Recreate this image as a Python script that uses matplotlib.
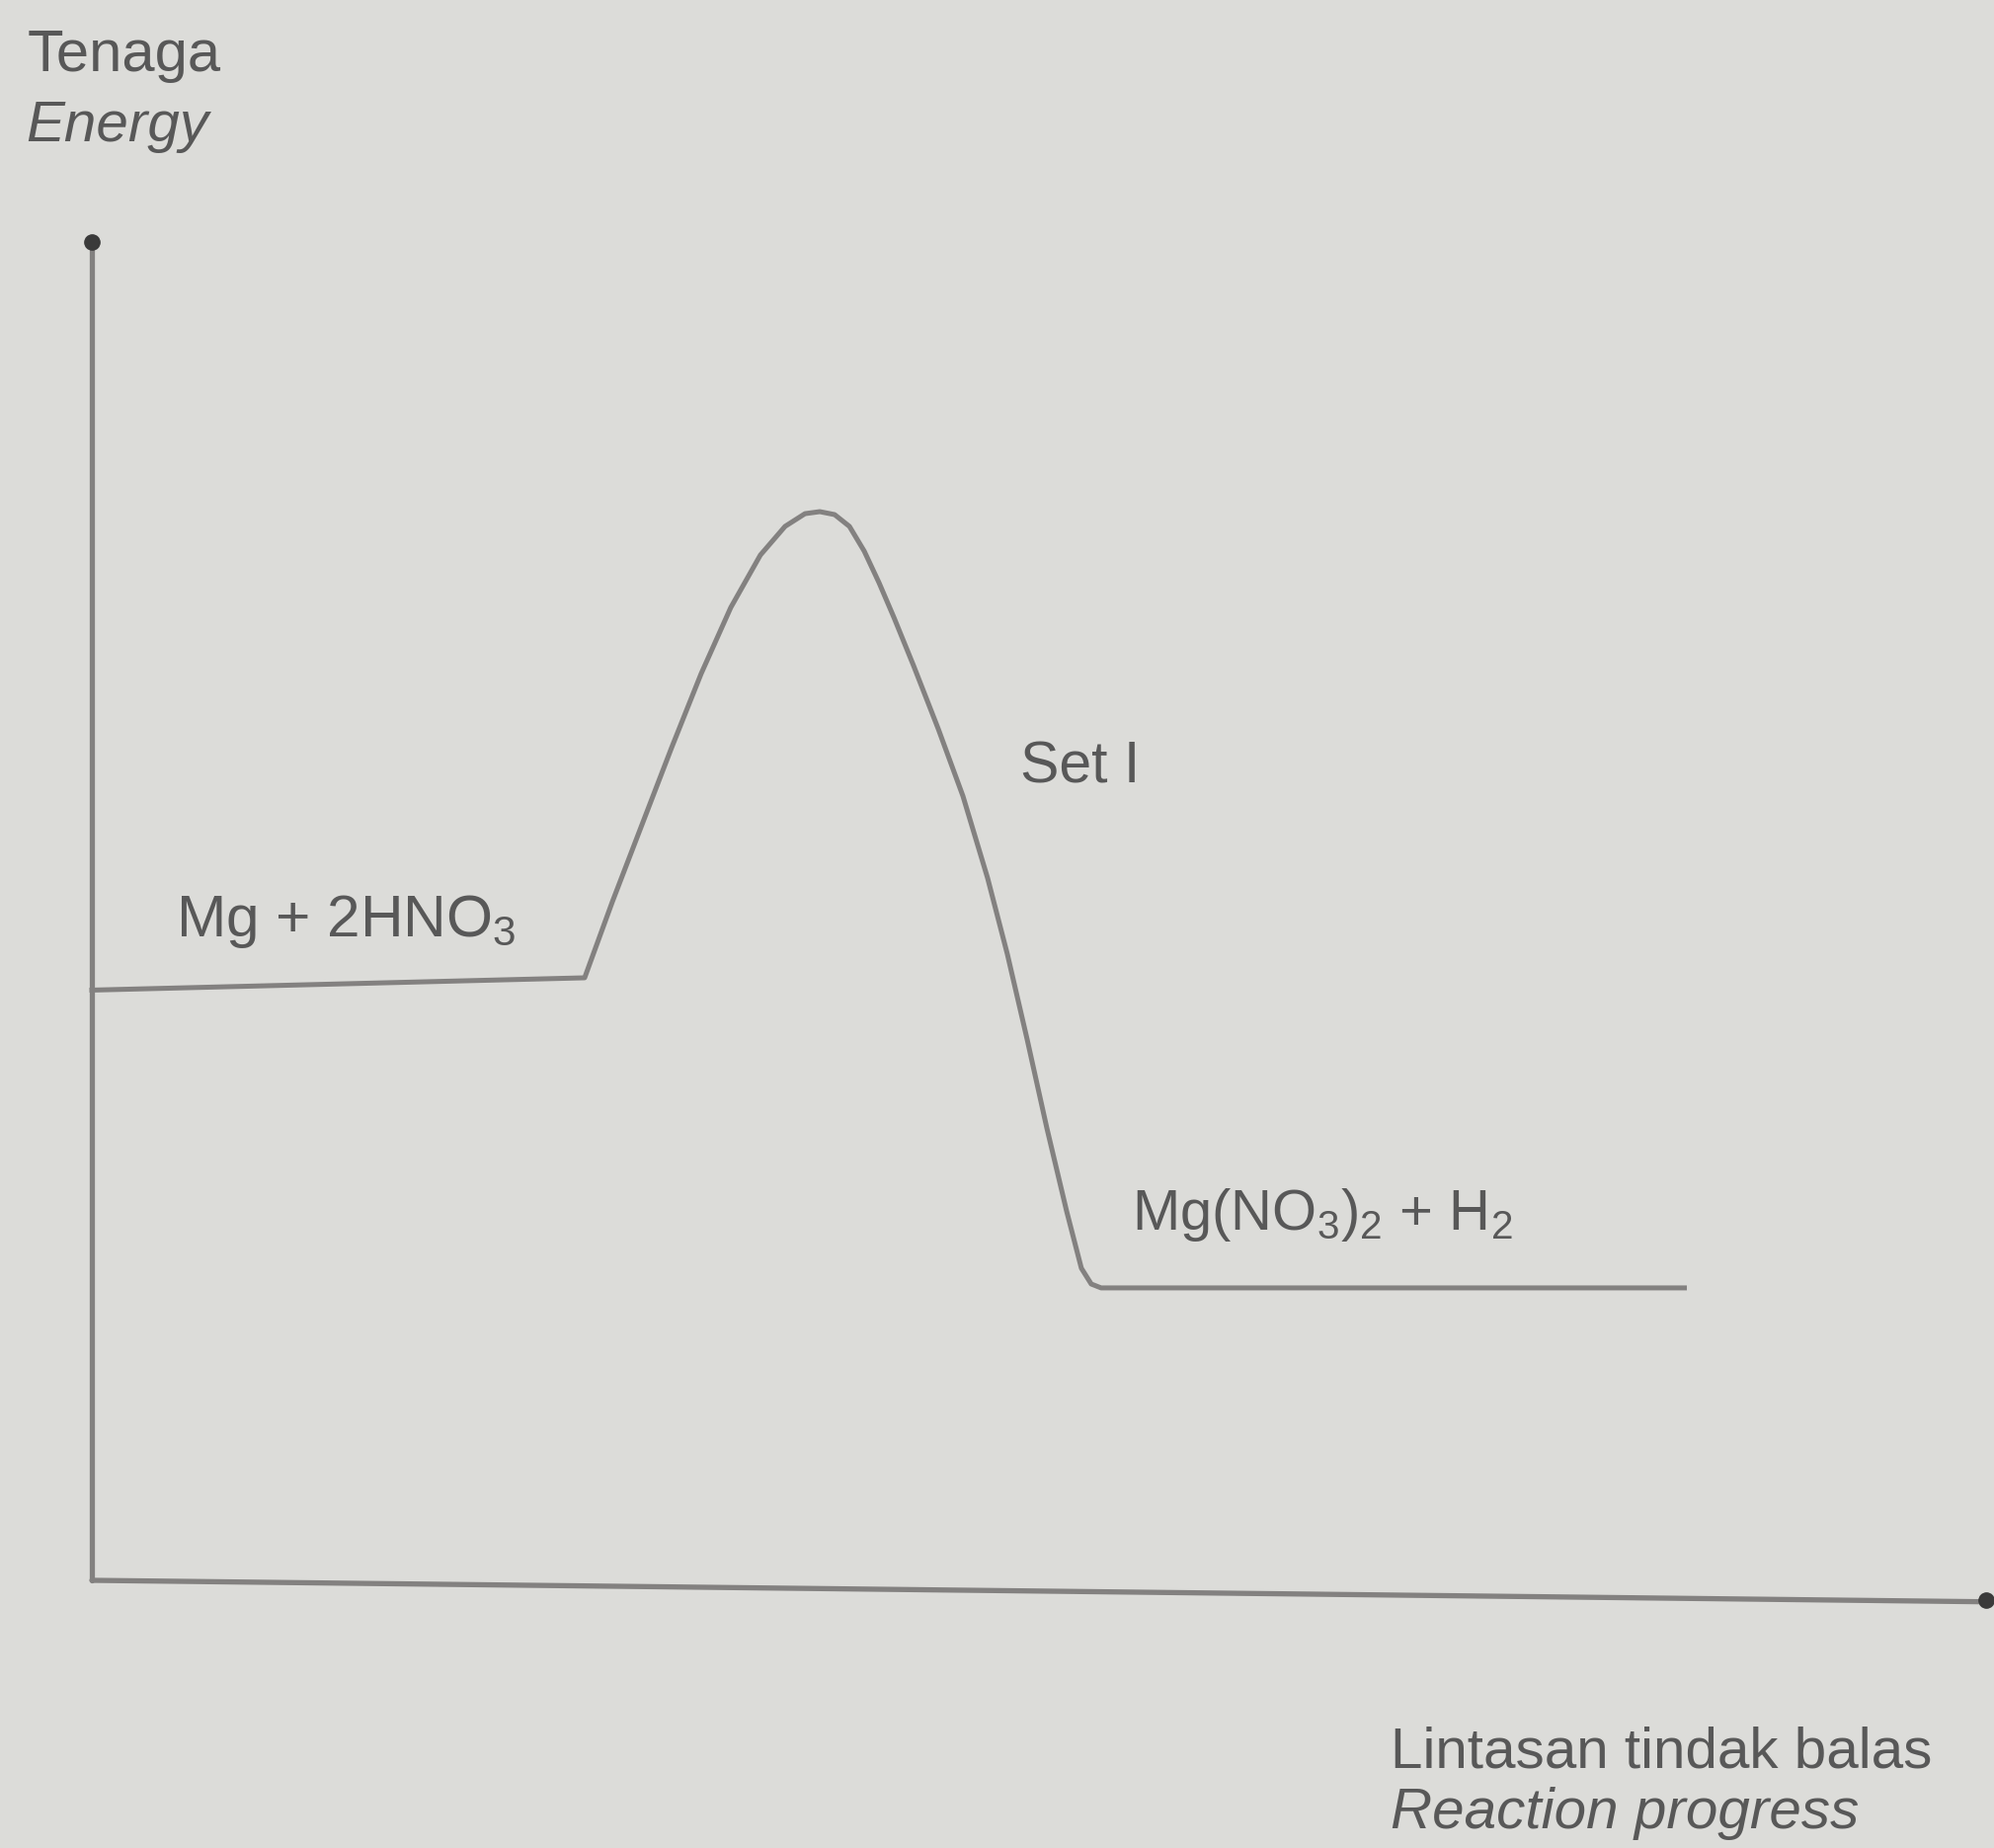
import numpy as np
import matplotlib.pyplot as plt

plt.rcParams['font.family'] = ['Liberation Sans', 'DejaVu Sans']
plt.rcParams['mathtext.fontset'] = 'custom'
plt.rcParams['mathtext.rm'] = 'Liberation Sans'
plt.rcParams['mathtext.it'] = 'Liberation Sans:italic'

# energy profile (reaction progress 0-100, energy in arbitrary units)
reactant_x = [0.0, 25.96]
reactant_e = [44.1, 45.02]

hump_x = [25.96, 27.42, 28.98, 30.54, 32.10, 33.66, 35.22, 36.52, 37.57, 38.35,
          39.13, 39.91, 40.69, 41.47, 42.25, 43.29, 44.59, 45.89, 47.19, 48.23,
          49.27, 50.31, 51.35, 52.13, 52.65, 53.17]
hump_e = [45.02, 50.70, 56.46, 62.21, 67.75, 72.69, 76.61, 78.75, 79.70, 79.85,
          79.63, 78.75, 76.90, 74.54, 71.96, 68.34, 63.62, 58.60, 52.47, 46.79,
          40.44, 33.80, 27.60, 23.32, 22.14, 21.85]

product_x = [53.17, 83.9]
product_e = [21.85, 21.85]

y_label = ["Tenaga", "Energy"]
x_label = ["Lintasan tindak balas", "Reaction progress"]
reactant_label = r"Mg + 2HNO$_\mathregular{3}$"
product_label = r"Mg(NO$_\mathregular{3}$)$_\mathregular{2}$ + H$_\mathregular{2}$"
set_label = "Set I"

bg = '#dcdcd9'
line_c = '#838180'
text_c = '#585858'

fig = plt.figure(figsize=(20.19, 18.71), dpi=100, facecolor=bg)
ax = fig.add_axes([0, 0, 1, 1])
ax.set_facecolor(bg)
ax.set_xlim(-4.84, 100.21)
ax.set_ylim(-20.0, 118.08)
ax.axis('off')

# axes drawn by hand (slightly skewed like the photo)
ax.plot([0, 0], [0, 100], color=line_c, lw=3.8, solid_capstyle='round')
ax.plot([0, 99.6], [0, -1.6], color=line_c, lw=3.8, solid_capstyle='round')
ax.plot([0], [100], marker='o', ms=11, color='#3a3a3a')
ax.plot([99.8], [-1.5], marker='o', ms=11, color='#3a3a3a')

# profile
x_all = reactant_x + hump_x[1:] + product_x[1:]
e_all = reactant_e + hump_e[1:] + product_e[1:]
ax.plot(x_all, e_all, color=line_c, lw=3.6, solid_joinstyle='round')

# labels
ax.text(-3.38, 112.8, y_label[0], fontsize=43, color=text_c)
ax.text(-3.49, 107.5, y_label[1], fontsize=42, color=text_c, style='italic')
ax.text(4.42, 48.1, reactant_label, fontsize=43.5, color=text_c)
ax.text(48.9, 59.6, set_label, fontsize=42.5, color=text_c)
ax.text(54.8, 26.2, product_label, fontsize=41.7, color=text_c)
ax.text(68.4, -14.0, x_label[0], fontsize=42, color=text_c)
ax.text(68.4, -18.5, x_label[1], fontsize=42, color=text_c, style='italic')

fig.savefig('out.png', dpi=100, facecolor=bg)
